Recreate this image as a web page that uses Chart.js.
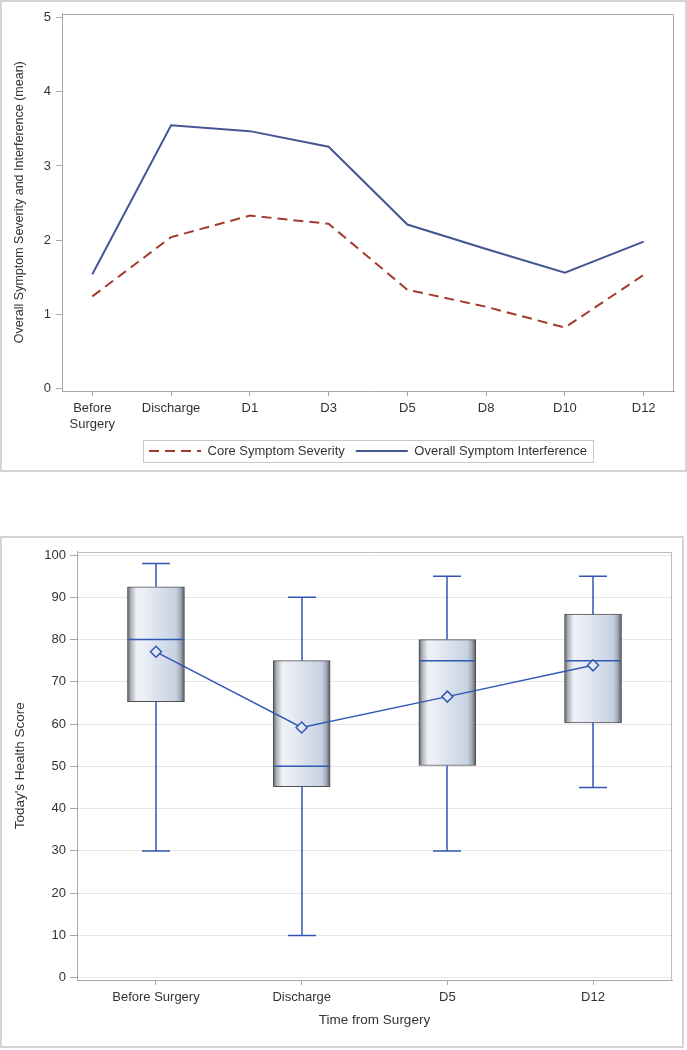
<!DOCTYPE html>
<html>
<head>
<meta charset="utf-8">
<script src="https://cdn.jsdelivr.net/npm/chart.js@4.4.1/dist/chart.umd.min.js"></script>
<style>
  body { margin: 0; background: #fff; }
  canvas { position: absolute; left: 0; }
  #symptomChart { top: 0; }
  #healthChart { top: 536px; }
</style>
</head>
<body>
<canvas id="symptomChart" width="687" height="472"></canvas>
<canvas id="healthChart" width="687" height="512"></canvas>
<script>
const timeLabels = [['Before', 'Surgery'], 'Discharge', 'D1', 'D3', 'D5', 'D8', 'D10', 'D12'];
const coreSeverity = [1.24, 2.04, 2.33, 2.22, 1.33, 1.10, 0.82, 1.53];
const interference = [1.54, 3.55, 3.47, 3.26, 2.21, 1.88, 1.56, 1.98];
const severityTicks = [0, 1, 2, 3, 4, 5];

const boxLabels = ['Before Surgery', 'Discharge', 'D5', 'D12'];
const whiskerLow = [30, 10, 30, 45];
const q1 = [65.3, 45.2, 50.2, 60.3];
const median = [80, 50, 75, 75];
const q3 = [92.5, 75, 80, 86];
const whiskerHigh = [98, 90, 95, 95];
const meanScore = [77.1, 59.2, 66.5, 73.9];
const healthTicks = [0, 10, 20, 30, 40, 50, 60, 70, 80, 90, 100];

Chart.defaults.font.family = "'Liberation Sans', Arial, sans-serif";
Chart.defaults.font.size = 13;
Chart.defaults.color = '#333';

const axisGray = '#a8a8a8';
const boxBlue = '#3157b5';

// outer frame + plot wall
const framePlugin = {
    id: 'frame',
    beforeDraw(chart, args, opts) {
        const ctx = chart.ctx;
        ctx.save();
        ctx.fillStyle = '#fff';
        ctx.fillRect(0, 0, chart.width, chart.height);
        ctx.strokeStyle = '#d4d4d4';
        ctx.lineWidth = 2;
        ctx.strokeRect(opts.x, opts.y, opts.w, opts.h);
        ctx.restore();
    },
    beforeDatasetsDraw(chart, args, opts) {
        const {ctx, chartArea: a} = chart;
        ctx.save();
        ctx.strokeStyle = opts.wall;
        ctx.lineWidth = 1;
        ctx.beginPath();
        ctx.moveTo(a.left, Math.round(a.top) + 0.5);
        ctx.lineTo(Math.round(a.right) - 0.5, Math.round(a.top) + 0.5);
        ctx.lineTo(Math.round(a.right) - 0.5, a.bottom);
        ctx.stroke();
        ctx.restore();
    },
    afterDraw(chart, args, opts) {
        if (!opts.legendBox) return;
        const hb = chart.legend.legendHitBoxes;
        if (!hb || !hb.length) return;
        const l = Math.min(...hb.map(h => h.left)) - 6;
        const r = Math.max(...hb.map(h => h.left + h.width)) + 6;
        const t = hb[0].top - 5;
        const b = hb[0].top + hb[0].height + 4;
        const ctx = chart.ctx;
        ctx.save();
        ctx.strokeStyle = '#c8c8c8';
        ctx.lineWidth = 1;
        ctx.strokeRect(Math.round(l) + 0.5, Math.round(t) + 0.5, Math.round(r - l), Math.round(b - t));
        ctx.restore();
    }
};

new Chart(document.getElementById('symptomChart'), {
    type: 'line',
    data: {
        datasets: [{
            label: 'Core Symptom Severity',
            data: coreSeverity.map((v, i) => ({x: i, y: v})),
            borderColor: '#A23A2E',
            borderWidth: 2,
            borderDash: [10, 6],
            pointRadius: 0,
            fill: false
        }, {
            label: 'Overall Symptom Interference',
            data: interference.map((v, i) => ({x: i, y: v})),
            borderColor: '#445694',
            borderWidth: 2,
            pointRadius: 0,
            fill: false
        }]
    },
    options: {
        responsive: false,
        animation: false,
        layout: {padding: {left: 8, top: 13.5, right: 13, bottom: 4.5}},
        scales: {
            x: {
                type: 'linear',
                min: -0.385,
                max: 7.385,
                afterBuildTicks: s => { s.ticks = timeLabels.map((l, i) => ({value: i})); },
                afterFit: s => { s.height = 42.5; },
                ticks: {
                    maxRotation: 0,
                    autoSkip: false,
                    padding: 5,
                    callback: v => timeLabels[v]
                },
                grid: {drawOnChartArea: false, tickLength: 5, tickColor: axisGray},
                border: {color: axisGray}
            },
            y: {
                min: -0.036,
                max: 5.057,
                afterBuildTicks: s => { s.ticks = severityTicks.map(v => ({value: v})); },
                afterFit: s => { s.width = 54; },
                ticks: {padding: 5},
                grid: {drawOnChartArea: false, tickLength: 6, tickColor: axisGray},
                border: {color: axisGray},
                title: {
                    display: true,
                    text: 'Overall Symptom Severity and Interference (mean)',
                    font: {size: 12.5}
                }
            }
        },
        plugins: {
            legend: {
                position: 'bottom',
                fullSize: false,
                labels: {
                    usePointStyle: true,
                    pointStyle: 'line',
                    pointStyleWidth: 52,
                    padding: 11,
                    font: {size: 13},
                    generateLabels: chart => Chart.defaults.plugins.legend.labels.generateLabels(chart).map(item => {
                        const ds = chart.data.datasets[item.datasetIndex];
                        item.lineDash = ds.borderDash || [];
                        item.lineWidth = ds.borderWidth;
                        item.strokeStyle = ds.borderColor;
                        return item;
                    })
                }
            },
            tooltip: {enabled: false},
            frame: {x: 1, y: 1, w: 685, h: 470, wall: axisGray, legendBox: true}
        }
    },
    plugins: [framePlugin]
});

function boxGradient(c) {
    const chart = c.chart;
    if (!chart.chartArea || !chart.scales.x) return '#d5dde9';
    const cx = chart.scales.x.getPixelForValue(c.dataIndex);
    const g = chart.ctx.createLinearGradient(cx - 28.5, 0, cx + 28.5, 0);
    g.addColorStop(0, '#5a5d62');
    g.addColorStop(0.06, '#aeb2b9');
    g.addColorStop(0.16, '#eef1f6');
    g.addColorStop(0.3, '#eaeef5');
    g.addColorStop(0.6, '#d6deea');
    g.addColorStop(0.85, '#c6d1e3');
    g.addColorStop(0.93, '#a3abb7');
    g.addColorStop(1, '#55585d');
    return g;
}

const whiskerPlugin = {
    id: 'whiskers',
    afterDatasetDraw(chart, args) {
        if (args.index !== 0) return;
        const {ctx, scales: {x, y}} = chart;
        ctx.save();
        ctx.strokeStyle = boxBlue;
        ctx.lineWidth = 1.5;
        boxLabels.forEach((label, i) => {
            const cx = Math.round(x.getPixelForValue(i));
            const hi = y.getPixelForValue(whiskerHigh[i]);
            const lo = y.getPixelForValue(whiskerLow[i]);
            const md = y.getPixelForValue(median[i]);
            ctx.beginPath();
            ctx.moveTo(cx, y.getPixelForValue(q3[i]));
            ctx.lineTo(cx, hi);
            ctx.moveTo(cx, y.getPixelForValue(q1[i]));
            ctx.lineTo(cx, lo);
            ctx.moveTo(cx - 14, hi);
            ctx.lineTo(cx + 14, hi);
            ctx.moveTo(cx - 14, lo);
            ctx.lineTo(cx + 14, lo);
            ctx.moveTo(cx - 27.5, md);
            ctx.lineTo(cx + 27.5, md);
            ctx.stroke();
        });
        ctx.restore();
    }
};

new Chart(document.getElementById('healthChart'), {
    type: 'bar',
    data: {
        datasets: [{
            type: 'bar',
            data: boxLabels.map((l, i) => ({x: i, y: [q1[i], q3[i]]})),
            backgroundColor: boxGradient,
            borderColor: '#505050',
            borderWidth: 1,
            borderSkipped: false,
            barThickness: 57,
            order: 2
        }, {
            type: 'line',
            data: meanScore.map((v, i) => ({x: i, y: v})),
            borderColor: boxBlue,
            borderWidth: 1.5,
            pointStyle: 'rectRot',
            pointRadius: 5.5,
            pointBorderColor: boxBlue,
            pointBorderWidth: 1.5,
            pointBackgroundColor: '#e2e8f1',
            order: 1
        }]
    },
    options: {
        responsive: false,
        animation: false,
        layout: {padding: {left: 8, top: 15.5, right: 15, bottom: 15.2}},
        scales: {
            x: {
                type: 'linear',
                offset: false,
                min: -0.542,
                max: 3.542,
                afterBuildTicks: s => { s.ticks = boxLabels.map((l, i) => ({value: i})); },
                afterFit: s => { s.height = 52.8; },
                ticks: {maxRotation: 0, autoSkip: false, padding: 5, callback: v => boxLabels[v]},
                grid: {offset: false, drawOnChartArea: false, tickLength: 5, tickColor: axisGray},
                border: {color: axisGray},
                title: {display: true, text: 'Time from Surgery', font: {size: 13.5}}
            },
            y: {
                min: -0.54,
                max: 100.83,
                afterBuildTicks: s => { s.ticks = healthTicks.map(v => ({value: v})); },
                afterFit: s => { s.width = 69; },
                ticks: {padding: 4},
                grid: {color: '#e6e6e6', tickLength: 7, tickColor: axisGray},
                border: {color: axisGray},
                title: {display: true, text: "Today's Health Score", font: {size: 13.5}}
            }
        },
        plugins: {
            legend: {display: false},
            tooltip: {enabled: false},
            frame: {x: 1, y: 1, w: 682, h: 510, wall: '#bdbdbd', legendBox: false}
        }
    },
    plugins: [framePlugin, whiskerPlugin]
});
</script>
</body>
</html>
